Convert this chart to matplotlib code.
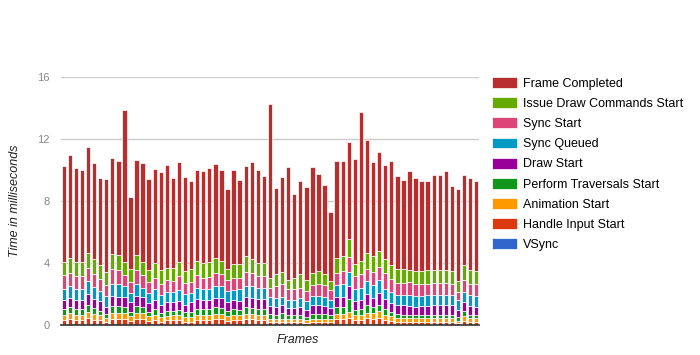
import numpy as np
import matplotlib
matplotlib.use('Agg')
import matplotlib.pyplot as plt

plt.rcParams['font.family'] = ['Liberation Sans', 'DejaVu Sans']

# Cumulative time (ms) at which each stage ends, one value per frame
vsync = [0.0] * 69
handle_input = [0.33, 0.4, 0.33, 0.33, 0.45, 0.35, 0.3, 0.2, 0.4, 0.4, 0.4, 0.25, 0.4, 0.4, 0.28, 0.33, 0.22,
                0.3, 0.3, 0.3, 0.22, 0.22, 0.33, 0.33, 0.33, 0.38, 0.38, 0.25, 0.33, 0.3, 0.38, 0.38, 0.33, 0.33,
                0.2, 0.2, 0.2, 0.18, 0.18, 0.18, 0.15, 0.2, 0.2, 0.2, 0.18, 0.4, 0.4, 0.45, 0.3, 0.35, 0.42,
                0.4, 0.45, 0.33, 0.28, 0.22, 0.22, 0.22, 0.22, 0.22, 0.22, 0.22, 0.22, 0.22, 0.22, 0.12, 0.28, 0.22, 0.22]
animation = [0.67, 0.76, 0.67, 0.67, 0.82, 0.72, 0.63, 0.46, 0.78, 0.78, 0.78, 0.56, 0.78, 0.76, 0.59, 0.67, 0.5,
             0.59, 0.63, 0.63, 0.5, 0.5, 0.67, 0.67, 0.67, 0.72, 0.72, 0.56, 0.67, 0.63, 0.72, 0.72, 0.67, 0.67,
             0.4, 0.37, 0.4, 0.37, 0.37, 0.37, 0.3, 0.4, 0.4, 0.4, 0.37, 0.72, 0.72, 0.82, 0.63, 0.67, 0.78,
             0.78, 0.89, 0.63, 0.56, 0.43, 0.43, 0.43, 0.43, 0.43, 0.43, 0.43, 0.43, 0.43, 0.43, 0.28, 0.56, 0.43, 0.43]
traversals = [1.04, 1.15, 1.02, 1.02, 1.32, 1.1, 0.93, 0.72, 1.21, 1.21, 1.17, 0.85, 1.21, 1.15, 0.85, 1.04, 0.8,
              0.89, 0.93, 0.97, 0.82, 0.87, 1.04, 1.02, 1.02, 1.15, 1.1, 0.93, 1.02, 1.0, 1.15, 1.1, 1.04, 1.04,
              0.72, 0.67, 0.76, 0.63, 0.63, 0.67, 0.5, 0.72, 0.72, 0.72, 0.63, 1.19, 1.15, 1.69, 0.97, 1.04, 1.32,
              1.15, 1.32, 1.04, 0.82, 0.72, 0.67, 0.67, 0.65, 0.65, 0.67, 0.67, 0.67, 0.67, 0.67, 0.5, 0.89, 0.65, 0.65]
draw_start = [1.63, 1.76, 1.63, 1.63, 2.02, 1.69, 1.54, 1.19, 1.84, 1.8, 1.8, 1.47, 1.86, 1.8, 1.43, 1.63, 1.3,
              1.47, 1.47, 1.58, 1.28, 1.47, 1.65, 1.63, 1.63, 1.76, 1.76, 1.47, 1.63, 1.58, 1.78, 1.74, 1.65, 1.65,
              1.21, 1.15, 1.26, 1.08, 1.08, 1.15, 1.0, 1.26, 1.3, 1.21, 1.1, 1.8, 1.8, 2.51, 1.58, 1.63, 2.02,
              1.76, 2.06, 1.65, 1.43, 1.26, 1.26, 1.21, 1.15, 1.21, 1.21, 1.28, 1.28, 1.28, 1.26, 0.97, 1.47, 1.21, 1.15]
sync_queued = [2.34, 2.49, 2.32, 2.32, 2.83, 2.45, 2.19, 1.84, 2.64, 2.64, 2.51, 2.06, 2.64, 2.4, 2.06, 2.32, 1.91,
               2.12, 2.16, 2.23, 2.0, 2.06, 2.4, 2.32, 2.34, 2.53, 2.49, 2.19, 2.27, 2.3, 2.53, 2.49, 2.4, 2.4,
               1.8, 1.76, 1.8, 1.63, 1.63, 1.71, 1.54, 1.84, 1.86, 1.8, 1.63, 2.55, 2.62, 3.42, 2.3, 2.4, 2.83,
               2.55, 2.88, 2.34, 2.12, 1.91, 1.91, 1.95, 1.84, 1.84, 1.91, 1.95, 1.95, 1.95, 1.91, 1.63, 2.12, 1.91, 1.86]
sync_start = [3.2, 3.38, 3.14, 3.14, 3.7, 3.27, 2.99, 2.6, 3.59, 3.53, 3.2, 2.77, 3.53, 3.2, 2.77, 3.05, 2.66,
              2.88, 2.86, 3.18, 2.71, 2.77, 3.2, 3.05, 3.09, 3.38, 3.31, 2.92, 3.05, 3.05, 3.4, 3.36, 3.14, 3.16,
              2.4, 2.51, 2.62, 2.3, 2.3, 2.4, 2.19, 2.55, 2.66, 2.55, 2.23, 3.38, 3.48, 4.39, 3.14, 3.31, 3.64,
              3.42, 3.74, 3.38, 2.99, 2.71, 2.71, 2.77, 2.62, 2.62, 2.66, 2.71, 2.71, 2.71, 2.66, 2.12, 2.92, 2.66, 2.62]
issue_draw = [4.09, 4.35, 4.05, 4.07, 4.65, 4.24, 3.85, 3.44, 4.57, 4.5, 4.07, 3.64, 4.54, 4.05, 3.57, 3.98, 3.53,
              3.68, 3.68, 4.07, 3.48, 3.64, 4.13, 3.98, 4.05, 4.35, 4.13, 3.64, 3.92, 3.94, 4.42, 4.26, 4.03, 4.01,
              3.03, 3.31, 3.42, 2.92, 3.03, 3.31, 2.92, 3.38, 3.48, 3.31, 2.83, 4.35, 4.46, 5.58, 3.96, 4.13, 4.65,
              4.44, 4.78, 4.28, 3.9, 3.64, 3.6, 3.53, 3.46, 3.46, 3.53, 3.53, 3.57, 3.53, 3.46, 2.81, 3.85, 3.53, 3.46]
frame_completed = [10.23, 10.99, 10.12, 9.97, 11.48, 10.42, 9.47, 9.43, 10.79, 10.6, 13.9, 8.26, 10.66, 10.47, 9.39, 10.08, 9.9,
                   10.34, 9.47, 10.49, 9.56, 9.32, 10.01, 9.93, 10.14, 10.4, 10.03, 8.78, 10.01, 9.36, 10.27, 10.53, 10.03, 9.62,
                   14.29, 8.83, 9.58, 10.21, 8.46, 9.26, 8.91, 10.21, 9.75, 9.04, 7.27, 10.58, 10.58, 11.83, 10.68, 13.77, 11.93,
                   10.49, 11.13, 10.35, 10.59, 9.62, 9.37, 9.93, 9.46, 9.27, 9.3, 9.69, 9.69, 9.95, 8.98, 8.79, 9.69, 9.47, 9.3]

series_names = ['VSync', 'Handle Input Start', 'Animation Start', 'Perform Traversals Start',
                'Draw Start', 'Sync Queued', 'Sync Start', 'Issue Draw Commands Start', 'Frame Completed']
series_tops = [vsync, handle_input, animation, traversals, draw_start,
               sync_queued, sync_start, issue_draw, frame_completed]
colors = ['#3366cc', '#dc3912', '#ff9900', '#109618', '#990099',
          '#0099c6', '#dd4477', '#66aa00', '#b82e2e']

fig = plt.figure(figsize=(7, 3.55), dpi=100)
ax = fig.add_axes([60.7 / 700, 30 / 355, 418.5 / 700, 248 / 355])

x = np.arange(len(frame_completed))
bottom = np.zeros(len(x))
handles = []
for name, tops, c in zip(series_names, series_tops, colors):
    tops = np.array(tops)
    h = ax.bar(x, tops - bottom, bottom=bottom, width=0.72, color=c,
               edgecolor='white', linewidth=0.5, label=name, zorder=2)
    handles.append(h)
    bottom = tops

ax.set_xlim(-0.5, len(x) - 0.5)
ax.set_ylim(0, 16)
ax.set_yticks([0, 4, 8, 12, 16])
ax.set_xticks([])
ax.grid(axis='y', color='#cccccc', linewidth=1, zorder=0)
ax.set_axisbelow(True)
for s in ['top', 'right', 'left']:
    ax.spines[s].set_visible(False)
ax.spines['bottom'].set_color('#333333')
ax.spines['bottom'].set_linewidth(1.2)
ax.spines['bottom'].set_zorder(3)
ax.tick_params(axis='y', length=0, pad=8, labelsize=8, labelcolor='#888888')

ax.set_xlabel('Frames', fontsize=9, style='italic', color='#222222')
ax.xaxis.set_label_coords(0.567, -0.035)
ax.set_ylabel('Time in milliseconds', fontsize=9, style='italic', color='#222222')
ax.yaxis.set_label_coords(-0.095, 0.5)

fig.legend(handles[::-1], series_names[::-1], loc='upper left',
           bbox_to_anchor=(492 / 700, 1 - 77 / 355), frameon=False,
           fontsize=9, handlelength=2.0, handleheight=0.95, labelspacing=0.6,
           handletextpad=0.45, borderaxespad=0, borderpad=0)

fig.savefig('out.png', dpi=100)
